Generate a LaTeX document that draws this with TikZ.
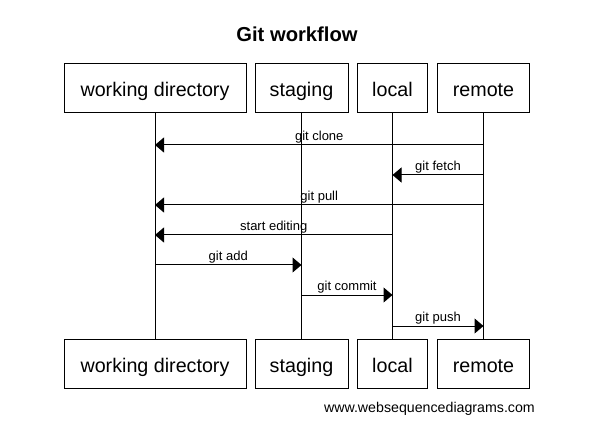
\documentclass[tikz,border=0pt]{standalone}
\usepackage{fontspec}
\setmainfont{Liberation Sans}
\usetikzlibrary{arrows.meta}
\begin{document}
\begin{tikzpicture}[x=1pt,y=-1pt,
  actor/.style={draw,line width=1pt,minimum height=49pt,inner sep=0pt,text height=20pt,text depth=4pt,font=\fontsize{19.7}{22}\selectfont},
  life/.style={line width=1pt},
  msg/.style={line width=1pt,-{Triangle[length=9pt,width=15pt]}},
  lbl/.style={anchor=base,yshift=4.5pt,inner sep=0pt,font=\fontsize{13}{15}\selectfont}]
\useasboundingbox (0,0) rectangle (602,430);
\fill[white] (0,0) rectangle (602,430);
\node[font=\fontsize{20.2}{24}\selectfont\bfseries] (title) at (297,34.5) {Git workflow};
% top actors
\node[actor,minimum width=182pt] (wt) at (155,88.5) {working directory};
\node[actor,minimum width=93pt] (st) at (301.5,88.5) {staging};
\node[actor,minimum width=70pt] (lt) at (392.5,88.5) {local};
\node[actor,minimum width=92pt] (rt) at (483.5,88.5) {remote};
% bottom actors
\node[actor,minimum width=182pt] (wb) at (155,364) {working directory};
\node[actor,minimum width=93pt] (sb) at (301.5,364) {staging};
\node[actor,minimum width=70pt] (lb) at (392.5,364) {local};
\node[actor,minimum width=92pt] (rb) at (483.5,364) {remote};
% lifelines
\draw[life] (wt) -- (wb);
\draw[life] (st) -- (sb);
\draw[life] (lt) -- (lb);
\draw[life] (rt) -- (rb);
% messages
\draw[msg] (rt |- {0,145}) -- node[lbl] {git clone} (wt |- {0,145});
\draw[msg] (rt |- {0,175}) -- node[lbl] {git fetch} (lt |- {0,175});
\draw[msg] (rt |- {0,205}) -- node[lbl] {git pull} (wt |- {0,205});
\draw[msg] (lt |- {0,235}) -- node[lbl] {start editing} (wt |- {0,235});
\draw[msg] (wt |- {0,265}) -- node[lbl] {git add} (st |- {0,265});
\draw[msg] (st |- {0,295}) -- node[lbl] {git commit} (lt |- {0,295});
\draw[msg] (lt |- {0,326}) -- node[lbl] {git push} (rt |- {0,326});
% footer
\node[anchor=base east,inner sep=0pt,font=\fontsize{14.2}{16}\selectfont] (footer) at (535,412) {www.websequencediagrams.com};
\end{tikzpicture}
\end{document}
